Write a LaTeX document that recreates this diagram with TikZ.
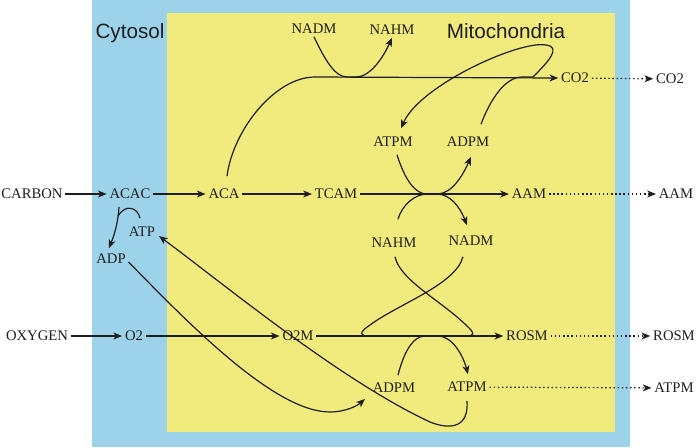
\documentclass[tikz,border=0pt]{standalone}
\usepackage{fontspec}
\setmainfont{Liberation Serif}
\newfontfamily\regionfont{Liberation Sans}
\usepackage{tikz}
\usetikzlibrary{arrows.meta,calc}
\definecolor{cytosol}{HTML}{9DD3EA}
\definecolor{mito}{HTML}{F1EA7C}
\definecolor{ink}{HTML}{1E1E1E}

\begin{document}
\begin{tikzpicture}[x=0.75pt,y=-0.75pt,
    every node/.style={font=\fontsize{11}{13}\selectfont,text=ink,inner sep=2pt},
    region/.style={font=\regionfont\fontsize{15.5}{18}\selectfont,anchor=base},
    link/.style={-{Stealth[length=6.5pt,width=5.2pt,inset=1.8pt]},line width=0.9pt,ink},
    flow/.style={line width=0.9pt,ink},
    dotlink/.style={link,dash pattern=on 1.1pt off 2pt}
]
\useasboundingbox (0,0) rectangle (696,447);
% Compartments
\fill[cytosol] (92,0) rectangle (630,447);
\fill[mito] (167,13) rectangle (615,432);
\node[region] (cyto) at (130,38) {Cytosol};
\node[region] (mitoname) at (506,38) {Mitochondria};

% Species
\node (carbon)  at (32,194)  {CARBON};
\node (acac)    at (130,194) {ACAC};
\node (aca)     at (224,194) {ACA};
\node (tcam)    at (336,194) {TCAM};
\node (aamIn)   at (529,194) {AAM};
\node (aamOut)  at (676,194) {AAM};
\node (co2In)   at (575,78)  {CO2};
\node (co2Out)  at (670,79)  {CO2};
\node (nadmT)   at (314,29)  {NADM};
\node (nahmT)   at (392,30)  {NAHM};
\node (atpmU)   at (393,142) {ATPM};
\node (adpmU)   at (468,142) {ADPM};
\node (nahmM)   at (394,243) {NAHM};
\node (nadmM)   at (471,241) {NADM};
\node (atp)     at (142,232) {ATP};
\node (adp)     at (111,259) {ADP};
\node (oxygen)  at (37,336)  {OXYGEN};
\node (otwo)    at (134,336) {O2};
\node (otwom)   at (298,336) {O2M};
\node (rosmIn)  at (527,336) {ROSM};
\node (rosmOut) at (674,336) {ROSM};
\node (adpmL)   at (394,388) {ADPM};
\node (atpmL)   at (467,387) {ATPM};
\node (atpmOut) at (674,388) {ATPM};

% Main reactions
\draw[link] (carbon) -- (acac);
\draw[link] (acac) -- (aca);
\draw[link] (aca) -- (tcam);
\draw[link] (tcam) -- (aamIn);
\draw[link] (oxygen) -- (otwo);
\draw[link] (otwo) -- (otwom);
\draw[link] (otwom) -- (rosmIn);
\draw[link] ($(aca.north)+(3,-10)$) .. controls (233,130) and (275,77) .. (315,77) -- (co2In.west);

% Export
\draw[dotlink] (co2In) -- (co2Out);
\draw[dotlink] (aamIn) -- (aamOut);
\draw[dotlink] (rosmIn) -- (rosmOut);
\draw[dotlink] (atpmL) -- (atpmOut);

% Cofactors
\draw[link] (nadmT.south) .. controls (325,60) and (335,77) .. (347,77) -- (356,77) .. controls (370,77) and (383,58) .. (nahmT.south);
\draw[link] ($(adpmU.north)+(13,-10)$) .. controls (490,100) and (505,77) .. (522,77) -- (533,77)
    .. controls (548,62) and (562,47) .. (546,45) .. controls (520,40) and (420,85) .. ($(atpmU.north)+(8,-6)$);
\draw[link] ($(atpmU.south)+(4,5)$) .. controls (405,180) and (415,194) .. (427,194) -- (437,194) .. controls (452,194) and (463,175) .. ($(adpmU.south)+(3,7)$);
\draw[link] ($(nahmM.north)+(4,-16)$) .. controls (402,205) and (415,194) .. (427,194) -- (437,194) .. controls (450,194) and (460,207) .. ($(nadmM.north)+(-4,-8)$);
\draw[flow] ($(nahmM.south)+(1,6)$) .. controls (400,280) and (440,300) .. (466,325) .. controls (476,334) and (474,336) .. (466,336)
    -- (370,336) .. controls (360,336) and (358,333) .. (370,325) .. controls (400,303) and (455,285) .. ($(nadmM.south)+(-8,8)$);
\draw[link] ($(adpmL.north)+(4,-5)$) .. controls (403,355) and (412,336) .. (425,336) -- (438,336) .. controls (452,336) and (463,355) .. ($(atpmL.north)+(1,-5)$);
\draw[link] ($(acac.south)+(-11,5)$) .. controls (118,225) and (113,238) .. ($(adp.north)+(-2,-3)$);
\draw[flow] ($(atp.north)+(-2,-6)$) .. controls (138,208) and (126,203) .. (118,216);
\draw[link] ($(adp.east)+(0,3)$) .. controls (190,325) and (275,412) .. (330,412) .. controls (345,412) and (357,406) .. ($(adpmL.west)+(-5,11)$);
\draw[link] ($(atpmL.south)+(0,6)$) .. controls (469,428) and (450,430) .. (430,422) .. controls (340,380) and (225,285) .. ($(atp.east)+(1,4)$);
\end{tikzpicture}
\end{document}
